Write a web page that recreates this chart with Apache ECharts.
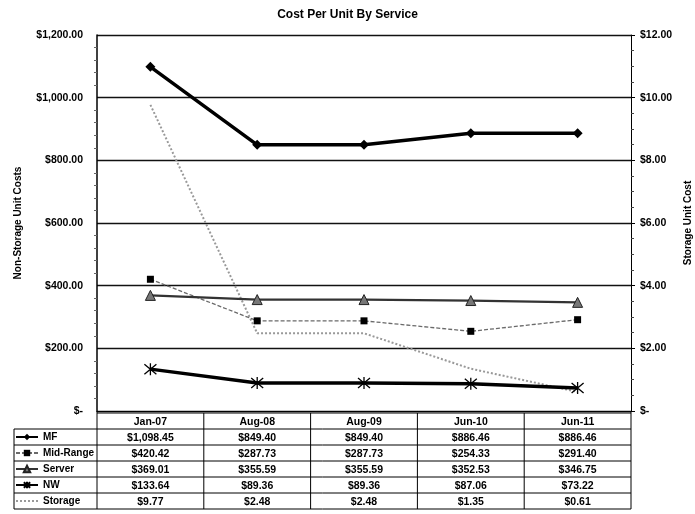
<!DOCTYPE html>
<html><head><meta charset="utf-8">
<script src="https://cdn.jsdelivr.net/npm/echarts@6/dist/echarts.min.js"></script>
<style>html,body{margin:0;padding:0;background:#fff}#c{width:695px;height:514px}</style>
</head><body><div id="c"></div>
<script>
// ---- data ----
const categories = ['Jan-07', 'Aug-08', 'Aug-09', 'Jun-10', 'Jun-11'];
const seriesNames = ['MF', 'Mid-Range', 'Server', 'NW', 'Storage'];
const mf = [1098.45, 849.40, 849.40, 886.46, 886.46];
const midRange = [420.42, 287.73, 287.73, 254.33, 291.40];
const server = [369.01, 355.59, 355.59, 352.53, 346.75];
const nw = [133.64, 89.36, 89.36, 87.06, 73.22];
const storage = [9.77, 2.48, 2.48, 1.35, 0.61];
const leftAxis = {min: 0, max: 1200, interval: 200};
const rightAxis = {min: 0, max: 12, interval: 2};

const FONT = "'Liberation Sans', Arial, sans-serif";
function money(v) {
  if (v === 0) return '$-';
  return '$' + v.toFixed(2).replace(/\B(?=(\d{3})+(?!\d))/g, ',');
}
const allSeries = [mf, midRange, server, nw, storage];

const chart = echarts.init(document.getElementById('c'), null, {renderer: 'canvas'});
const asterisk = 'path://M0,0 L10,10 M10,0 L0,10 M5,-1 L5,11';

const option = {
  backgroundColor: '#fff',
  animation: false,
  title: {
    text: 'Cost Per Unit By Service', left: 'center', top: 4,
    textStyle: {fontFamily: FONT, fontSize: 12, fontWeight: 'bold', color: '#000'}
  },
  grid: {left: 97, right: 64, top: 35, bottom: 103, containLabel: false, outerBoundsMode: 'none'},
  legend: {
    orient: 'vertical', left: 15, top: 429, itemGap: 0, itemWidth: 22, itemHeight: 8,
    padding: 0, selectedMode: false,
    textStyle: {fontFamily: FONT, fontSize: 10, fontWeight: 'bold', color: '#000', lineHeight: 16},
    data: seriesNames
  },
  xAxis: {
    type: 'category', data: categories, boundaryGap: true,
    axisLine: {show: true, lineStyle: {color: '#000', width: 1}},
    axisTick: {show: false},
    axisLabel: {
      margin: 3, fontFamily: FONT, fontSize: 10.5, fontWeight: 'bold', color: '#000', lineHeight: 16,
      interval: 0,
      formatter: function (v, i) {
        const lines = [v];
        allSeries.forEach(s => lines.push(money(s[i])));
        return lines.join('\n');
      }
    }
  },
  yAxis: [{
    type: 'value', min: leftAxis.min, max: leftAxis.max, interval: leftAxis.interval,
    name: 'Non-Storage Unit Costs', nameLocation: 'middle', nameGap: 74, nameRotate: 90,
    nameTextStyle: {fontFamily: FONT, fontSize: 10, fontWeight: 'bold', color: '#000'},
    axisLine: {show: true, lineStyle: {color: '#000', width: 1.5}},
    axisTick: {show: false},
    minorTick: {show: true, splitNumber: 5, length: 3, lineStyle: {color: '#666'}},
    axisLabel: {margin: 14, fontFamily: FONT, fontSize: 10.5, fontWeight: 'bold', color: '#000', formatter: money},
    splitLine: {show: true, lineStyle: {color: '#111', width: 1.3}}
  }, {
    type: 'value', min: rightAxis.min, max: rightAxis.max, interval: rightAxis.interval, position: 'right',
    name: 'Storage Unit Cost', nameLocation: 'middle', nameGap: 52, nameRotate: 90,
    nameTextStyle: {fontFamily: FONT, fontSize: 10, fontWeight: 'bold', color: '#000'},
    axisLine: {show: true, lineStyle: {color: '#000', width: 1}},
    axisTick: {show: true, inside: false, length: 4, lineStyle: {color: '#000'}},
    minorTick: {show: true, splitNumber: 4, length: 3, lineStyle: {color: '#444'}},
    axisLabel: {margin: 9, fontFamily: FONT, fontSize: 10.5, fontWeight: 'bold', color: '#000', formatter: money},
    splitLine: {show: false}
  }],
  series: [{
    name: 'MF', type: 'line', data: mf, yAxisIndex: 0,
    symbol: 'diamond', symbolSize: 10, z: 5,
    itemStyle: {color: '#000'}, lineStyle: {color: '#000', width: 3.5}
  }, {
    name: 'Mid-Range', type: 'line', data: midRange, yAxisIndex: 0,
    symbol: 'rect', symbolSize: 7, z: 4,
    itemStyle: {color: '#000'}, lineStyle: {color: '#6a6a6a', width: 1.3, type: [4, 2]}
  }, {
    name: 'Server', type: 'line', data: server, yAxisIndex: 0,
    symbol: 'triangle', symbolSize: 10, z: 4,
    itemStyle: {color: '#777', borderColor: '#222', borderWidth: 1}, lineStyle: {color: '#333', width: 2.2}
  }, {
    name: 'NW', type: 'line', data: nw, yAxisIndex: 0,
    symbol: asterisk, symbolSize: 12, z: 5,
    itemStyle: {color: '#000', borderColor: '#000', borderWidth: 1.3}, lineStyle: {color: '#000', width: 3.5}
  }, {
    name: 'Storage', type: 'line', data: storage, yAxisIndex: 1,
    symbol: 'circle', showSymbol: false, z: 3,
    itemStyle: {color: '#999', opacity: 0}, lineStyle: {color: '#999', width: 2, type: [2, 2], opacity: 1}
  }]
};
chart.setOption(option);

// ---- data table borders (positions derived from the category axis) ----
function drawTable() {
  const c0 = chart.convertToPixel({xAxisIndex: 0}, 0);
  const c1 = chart.convertToPixel({xAxisIndex: 0}, 1);
  const band = c1 - c0;
  const x0 = c0 - band / 2;
  const x1 = x0 + band * categories.length;
  const y0 = chart.convertToPixel({yAxisIndex: 0}, 0);
  const headTop = y0 + 2, rowH = 16;
  const labelLeft = 14;
  const els = [];
  const ls = {stroke: '#000', lineWidth: 1};
  els.push({type: 'line', shape: {x1: x0, y1: headTop, x2: x1, y2: headTop}, style: ls});
  for (let r = 1; r <= seriesNames.length + 1; r++) {
    const y = headTop + r * rowH;
    els.push({type: 'line', shape: {x1: labelLeft, y1: y, x2: x1, y2: y}, style: ls});
  }
  const bottom = headTop + (seriesNames.length + 1) * rowH;
  els.push({type: 'line', shape: {x1: labelLeft, y1: headTop + rowH, x2: labelLeft, y2: bottom}, style: ls});
  for (let i = 0; i <= categories.length; i++) {
    const x = x0 + i * band;
    els.push({type: 'line', shape: {x1: x, y1: (i === 0 || i === categories.length) ? y0 : headTop, x2: x, y2: bottom}, style: ls});
  }
  els.forEach(e => { e.silent = true; e.z = 10; });
  chart.setOption({graphic: els});
}
drawTable();
</script></body></html>
